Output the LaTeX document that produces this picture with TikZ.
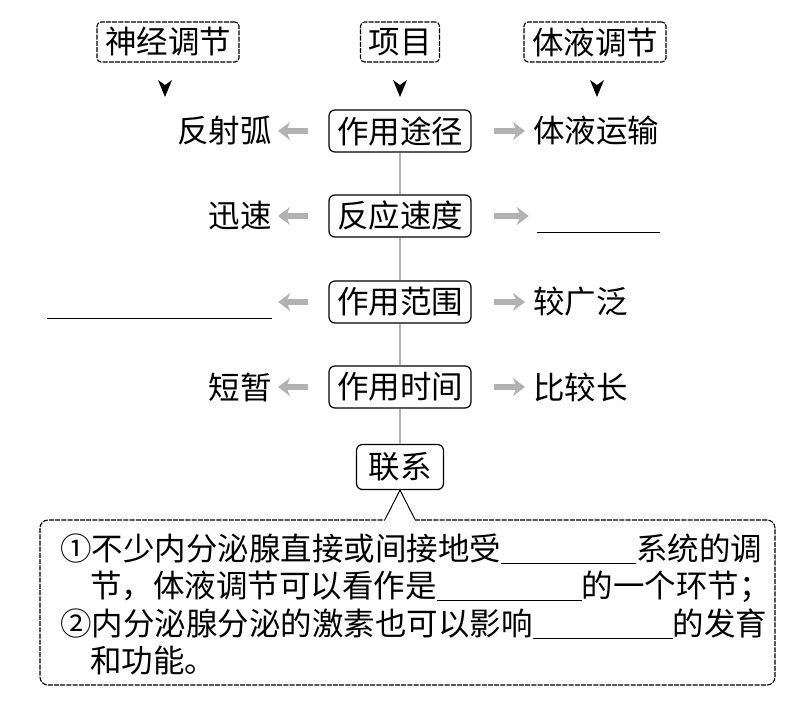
\documentclass[tikz,border=0pt]{standalone}
\usepackage{fontspec}
\setmainfont{Noto Sans CJK SC}
\usetikzlibrary{arrows.meta}
\begin{document}
\begin{tikzpicture}[x=1pt,y=-1pt,
  font=\fontsize{31.5}{37}\selectfont,
  topbox/.style={draw, dash pattern=on 5pt off 1.2pt, rounded corners=4pt, line width=1.1pt, inner xsep=8pt, inner ysep=0pt, minimum height=40pt},
  midbox/.style={draw, rounded corners=6pt, line width=1.2pt, inner xsep=8pt, inner ysep=0pt, minimum height=42pt},
  lbl/.style={inner sep=0pt},
  blank/.style={inner sep=0pt, minimum height=32pt},
  side/.style={draw=gray!60, line width=6pt, -{Stealth[length=12pt,width=18pt]}},
  vline/.style={draw=gray!60, line width=2pt},
  tip/.style={fill=black}]
\useasboundingbox (0,0) rectangle (794,709);

% header boxes
\node[topbox] (t1) at (168,42) {神经调节};
\node[topbox] (t2) at (400,42) {项目};
\node[topbox] (t3) at (595,42) {体液调节};
\foreach \x in {165,400,597}
  \fill[tip] (\x-7,80) -- (\x,97) -- (\x+7,80) -- (\x,85) -- cycle;

% central column
\node[midbox] (b1) at (400,131) {作用途径};
\node[midbox] (b2) at (400,216) {反应速度};
\node[midbox] (b3) at (400,302) {作用范围};
\node[midbox] (b4) at (400,387) {作用时间};
\node[midbox, inner xsep=12pt, minimum height=45pt] (b5) at (400,467) {联系};

% left items
\node[lbl, anchor=east] (l1) at (272,131) {反射弧};
\node[lbl, anchor=east] (l2) at (272,216) {迅速};
\node[blank, minimum width=225pt] (l3) at (159.5,302) {};
\draw[line width=1pt] (l3.south west) -- (l3.south east);
\node[lbl, anchor=east] (l4) at (272,387) {短暂};

% right items
\node[lbl, anchor=west] (r1) at (533,131) {体液运输};
\node[blank, minimum width=123pt] (r2) at (598.5,216) {};
\draw[line width=1pt] (r2.south west) -- (r2.south east);
\node[lbl, anchor=west] (r3) at (533,302) {较广泛};
\node[lbl, anchor=west] (r4) at (533,387) {比较长};

% side arrows
\foreach \b/\l in {b1/l1,b2/l2,b3/l3,b4/l4}
  \draw[side, shorten <=20pt, shorten >=6pt] (\b.west) -- (\b.west -| \l.east);
\foreach \b/\r in {b1/r1,b2/r2,b3/r3,b4/r4}
  \draw[side, shorten <=22pt, shorten >=8pt] (\b.east) -- (\b.east -| \r.west);

% vertical links
\draw[vline] (b1.south) -- (b2.north);
\draw[vline] (b2.south) -- (b3.north);
\draw[vline] (b3.south) -- (b4.north);
\draw[vline] (b4.south) -- (b5.north);

% bottom box
\node[draw, dash pattern=on 5pt off 1.2pt, rounded corners=8pt, line width=1.1pt, minimum width=735pt, minimum height=165pt, inner sep=0pt] (big) at (407.5,602.5) {};
\draw[white, line width=3pt] ([xshift=-15pt]b5.south |- big.north) -- ([xshift=15pt]b5.south |- big.north);
\draw[line width=1pt] ([xshift=-15pt]b5.south |- big.north) -- (b5.south) -- ([xshift=15pt]b5.south |- big.north);

\node[lbl, anchor=west] (p1) at (60,549) {①不少内分泌腺直接或间接地受\rule[-3pt]{135pt}{1pt}系统的调};
\node[lbl, anchor=west] (p2) at (90,587) {节，体液调节可以看作是\rule[-3pt]{145pt}{1pt}的一个环节；};
\node[lbl, anchor=west] (p3) at (60,624) {②内分泌腺分泌的激素也可以影响\rule[-3pt]{140pt}{1pt}的发育};
\node[lbl, anchor=west] (p4) at (90,661) {和功能。};
\end{tikzpicture}
\end{document}
